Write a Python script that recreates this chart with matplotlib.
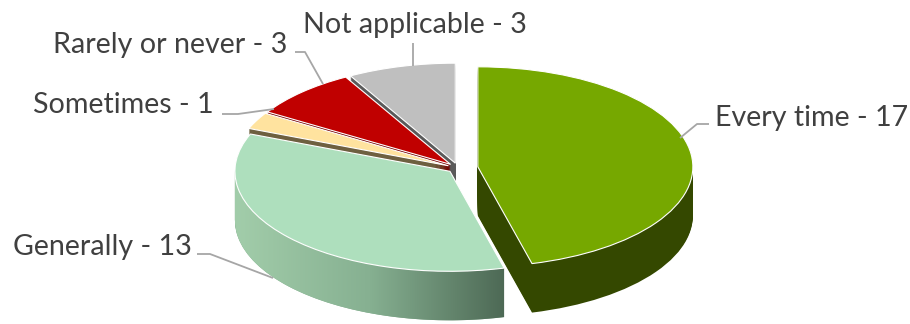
import numpy as np
import matplotlib
matplotlib.use("Agg")
import matplotlib.pyplot as plt
from matplotlib.patches import Polygon
from matplotlib.colors import LinearSegmentedColormap

# ---------------- data ----------------
categories = ['Every time', 'Generally', 'Sometimes', 'Rarely or never', 'Not applicable']
counts = [17, 13, 1, 3, 3]
top_colors = ['#76A800', '#AEDFBD', '#FFE39F', '#C00000', '#BFBFBF']
side_colors = ['#344800', '#7FA98A', '#6E6040', '#760000', '#5A5A5A']
explode = [0.093, 0.05, 0.05, 0.05, 0.05]
draw_rank = [3, 4, 2, 1, 0]          # painter order (back to front)

# ---------------- geometry (pixel layout) ----------------
W, H = 910, 324
CX, CY = 458, 168      # pie centre in pixels (top-left origin)
RX, RY = 215, 100      # ellipse radii in pixels
DEPTH = 0.49           # extrusion depth in pie units (y)
NLAYERS = 49

def P(xp, yp):
    return (xp - CX) / RX, (CY - yp) / RY

fig = plt.figure(figsize=(W / 100, H / 100), dpi=100)
ax = fig.add_axes([0, 0, 1, 1])
plt.rcParams['font.family'] = ['Lato', 'DejaVu Sans']

# ---------------- extrusion layers ----------------
for k in range(NLAYERS, 0, -1):
    d = DEPTH * k / NLAYERS
    wedges, _ = ax.pie(counts, explode=explode, colors=side_colors, startangle=90,
                       counterclock=False, center=(0, -d), radius=1,
                       wedgeprops=dict(linewidth=0))
    for i, w in enumerate(wedges):
        w.set_zorder(draw_rank[i] * 100 + (NLAYERS - k) / NLAYERS * 50)

# ---------------- top faces ----------------
wedges, _ = ax.pie(counts, explode=explode, colors=top_colors, startangle=90,
                   counterclock=False, center=(0, 0), radius=1,
                   wedgeprops=dict(edgecolor='white', linewidth=0.8))
for i, w in enumerate(wedges):
    w.set_zorder(draw_rank[i] * 100 + 60)

# gradient on the outer (front-facing) wall of "Generally"
gi = 1
gw = wedges[gi]
t1, t2 = sorted((gw.theta1, gw.theta2))
gcx, gcy = gw.center
th = np.radians(np.linspace(t1, t2, 400))
th = th[np.sin(th) <= 0]
xt, yt = gcx + np.cos(th), gcy + np.sin(th)
poly_xy = np.concatenate([np.c_[xt, yt], np.c_[xt[::-1], yt[::-1] - DEPTH]])
clip = Polygon(poly_xy, closed=True, transform=ax.transData)
cmap = LinearSegmentedColormap.from_list('gside', ['#A2CDAA', '#86B091', '#4D6955'])
grad = np.linspace(0, 1, 256).reshape(1, -1)
im = ax.imshow(grad, cmap=cmap, aspect='auto', interpolation='bicubic',
               extent=(xt.min(), xt.max(), yt.min() - DEPTH - 0.05, yt.max() + 0.05),
               zorder=draw_rank[gi] * 100 + 55)
im.set_clip_path(clip)

# ---------------- labels & leader lines ----------------
label_pos = {
    'Every time': (715, 126),
    'Generally': (13, 255),
    'Sometimes': (33, 113),
    'Rarely or never': (53, 53),
    'Not applicable': (303, 33),
}
leaders = {
    'Every time': [(680, 138), (697, 124), (709, 124)],
    'Generally': [(197, 254), (210, 254), (273, 278)],
    'Sometimes': [(222, 114), (238, 114), (274, 109)],
    'Rarely or never': [(295, 52), (305, 52), (323, 84)],
    'Not applicable': [(413, 43), (413, 66)],
}
for cat, n in zip(categories, counts):
    x, y = P(*label_pos[cat])
    ax.text(x, y, f"{cat} - {n}", ha='left', va='baseline', fontsize=20.6,
            color='#404040', zorder=1000)
    pts = np.array([P(*p) for p in leaders[cat]])
    ax.plot(pts[:, 0], pts[:, 1], color='#A6A6A6', lw=1.3, zorder=999,
            solid_capstyle='butt')

ax.set_aspect('auto')
x0, y1 = P(0, 0)
x1, y0 = P(W, H)
ax.set_xlim(x0, x1)
ax.set_ylim(y0, y1)
ax.axis('off')
fig.savefig('out.png', dpi=100)
